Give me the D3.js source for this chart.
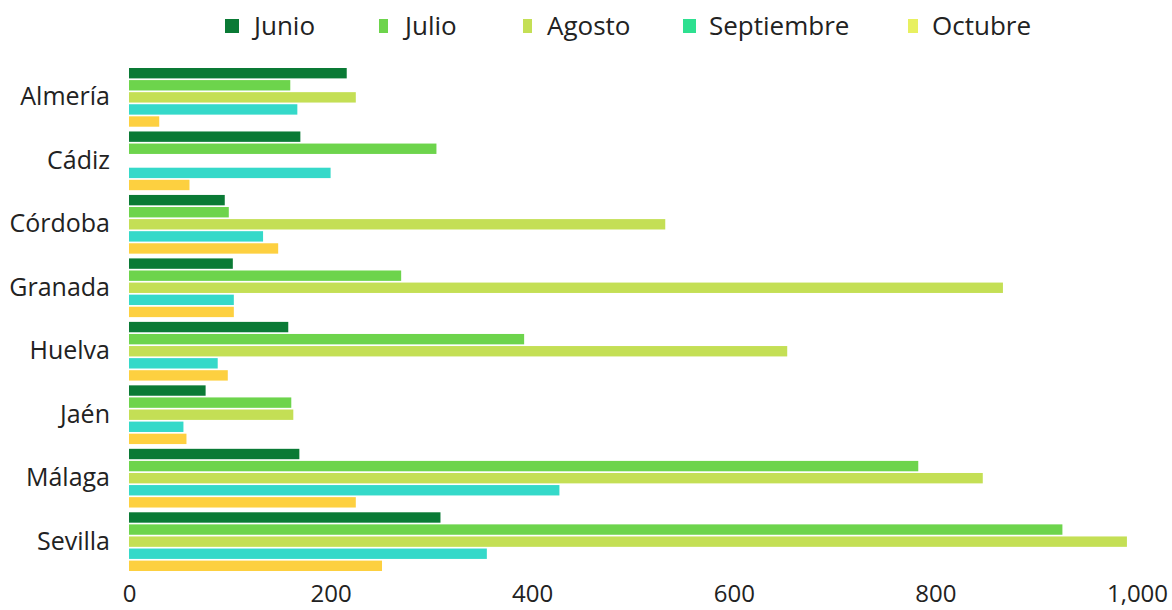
<!DOCTYPE html>
<html>
<head>
<meta charset="utf-8">
<script src="https://cdn.jsdelivr.net/npm/d3@7"></script>
<style>
  body { margin: 0; background: #fff; }
  svg { font-family: "Open Sans", "Noto Sans", sans-serif; }
</style>
</head>
<body>
<div id="chart"></div>
<script>
// provinces and monthly values
var provinces = ["Almería", "Cádiz", "Córdoba", "Granada", "Huelva", "Jaén", "Málaga", "Sevilla"];
var months = ["Junio", "Julio", "Agosto", "Septiembre", "Octubre"];
var junio      = [216, 170, 95, 103, 158, 76, 169, 309];
var julio      = [160, 305, 99, 270, 392, 161, 783, 926];
var agosto     = [225, 0, 532, 867, 653, 163, 847, 990];
var septiembre = [167, 200, 133, 104, 88, 54, 427, 355];
var octubre    = [30, 60, 148, 104, 98, 57, 225, 251];
var xTicks = [0, 200, 400, 600, 800, 1000];

var series = [junio, julio, agosto, septiembre, octubre];
var colors = ["#0a7a35", "#6dd44c", "#c4df55", "#35d9c9", "#fdd040"];
var legendColors = ["#0a7a35", "#6dd44c", "#c4df55", "#2ee090", "#e8f060"];

var width = 1172, height = 610;
var margin = { top: 68, right: 35, bottom: 39, left: 129 };

var svg = d3.select("#chart").append("svg")
    .attr("width", width)
    .attr("height", height);

var x = d3.scaleLinear()
    .domain([0, 1000])
    .range([margin.left, margin.left + 1008]);

var y = d3.scaleBand()
    .domain(provinces)
    .range([margin.top, height - margin.bottom])
    .paddingInner(0.075)
    .paddingOuter(0.0);

var ySub = d3.scaleBand()
    .domain(months)
    .range([0, y.bandwidth()])
    .paddingInner(0.14);

var data = [];
provinces.forEach(function (p, i) {
    months.forEach(function (m, j) {
        data.push({ province: p, month: m, value: series[j][i], color: colors[j] });
    });
});

svg.append("g")
    .selectAll("rect")
    .data(data.filter(function (d) { return d.value > 0; }))
    .enter()
    .append("rect")
    .attr("x", x(0))
    .attr("y", function (d) { return y(d.province) + ySub(d.month); })
    .attr("width", function (d) { return x(d.value) - x(0); })
    .attr("height", ySub.bandwidth())
    .attr("fill", function (d) { return d.color; });

// y axis labels
var yAxis = svg.append("g")
    .attr("transform", "translate(" + (margin.left - 19) + ",0)")
    .call(d3.axisLeft(y).tickSize(0).tickPadding(0));
yAxis.select(".domain").remove();
yAxis.selectAll("text")
    .style("font-family", "'Open Sans', 'Noto Sans', sans-serif")
    .style("font-size", "25px")
    .attr("fill", "#222");

// x axis
var xAxis = svg.append("g")
    .attr("transform", "translate(0," + (height - 25) + ")")
    .call(d3.axisBottom(x).tickValues(xTicks).tickSize(0).tickPadding(0).tickFormat(d3.format(",")));
xAxis.select(".domain").remove();
xAxis.selectAll("text")
    .style("font-family", "'Open Sans', 'Noto Sans', sans-serif")
    .style("font-size", "24px")
    .attr("fill", "#222");

// legend
var legendX = [225, 379, 523, 683, 908];
var legendW = [14, 9, 9, 13, 10];
var legendTextX = [254, 405, 547, 709, 932];
var legend = svg.append("g");
months.forEach(function (m, i) {
    legend.append("rect")
        .attr("x", legendX[i])
        .attr("y", 19)
        .attr("width", legendW[i])
        .attr("height", 14)
        .attr("fill", legendColors[i]);
    legend.append("text")
        .attr("x", legendTextX[i])
        .attr("y", 26)
        .attr("dy", "0.35em")
        .style("font-size", "26px")
        .attr("fill", "#222")
        .text(m);
});
</script>
</body>
</html>
